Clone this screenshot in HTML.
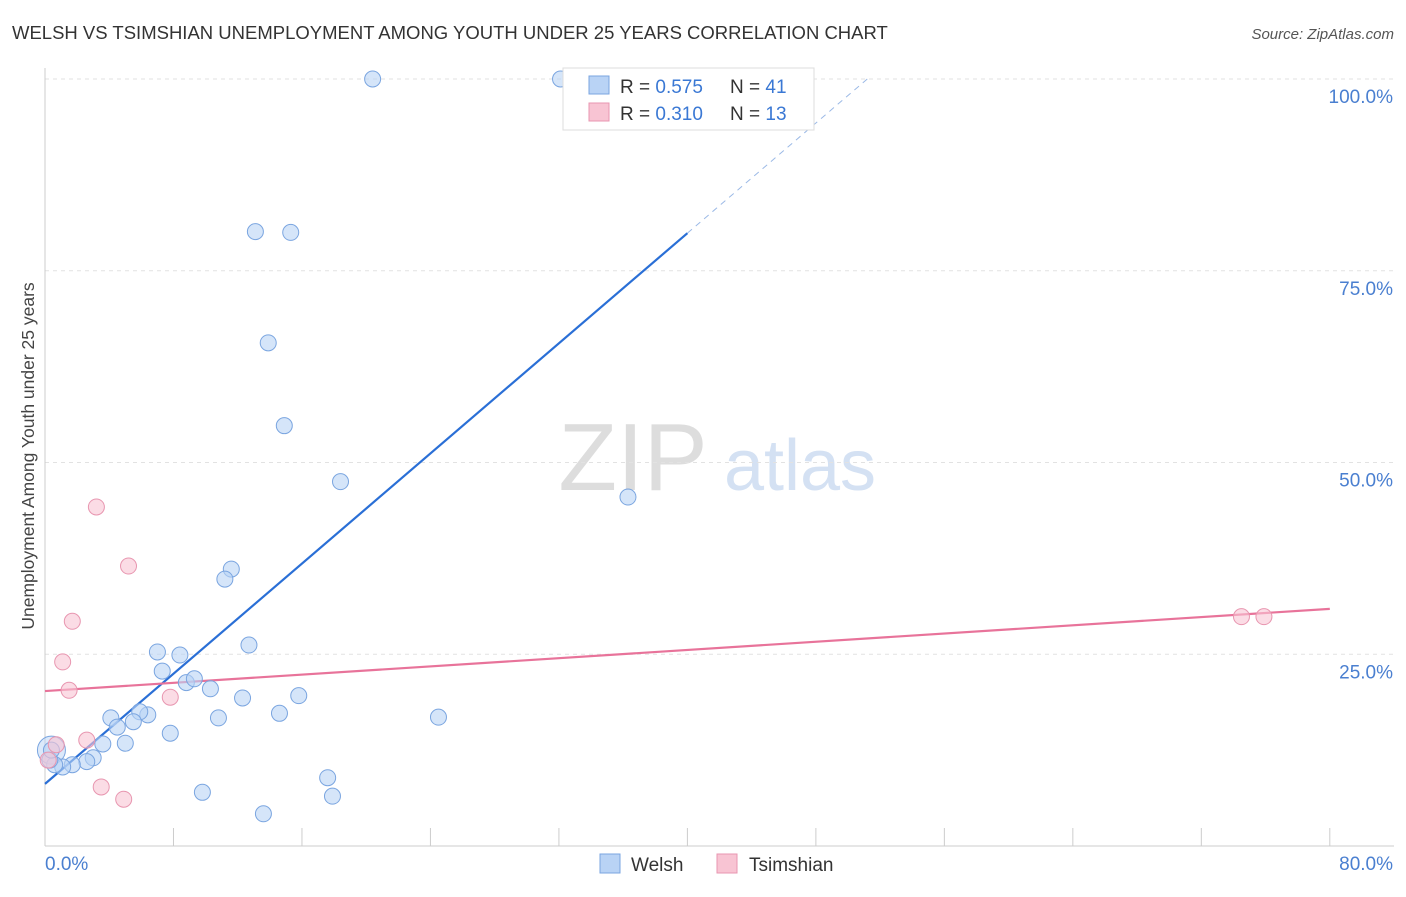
<!DOCTYPE html>
<html><head><meta charset="utf-8"><style>
body{margin:0;background:#fff;font-family:"Liberation Sans",sans-serif;}
svg text{font-family:"Liberation Sans",sans-serif;}
</style></head><body>
<svg width="1406" height="892" xmlns="http://www.w3.org/2000/svg">
<text x="12" y="39" font-size="18.5" fill="#333">WELSH VS TSIMSHIAN UNEMPLOYMENT AMONG YOUTH UNDER 25 YEARS CORRELATION CHART</text>
<text x="1394" y="39" font-size="15" fill="#555" font-style="italic" text-anchor="end">Source: ZipAtlas.com</text>
<text x="34" y="456" font-size="17.5" fill="#444" text-anchor="middle" transform="rotate(-90 34 456)">Unemployment Among Youth under 25 years</text>
<g><text x="633" y="490" font-size="96" fill="#ddd" font-family="Liberation Serif" text-anchor="middle">ZIP</text><text x="800" y="490" font-size="72" fill="#d4e1f3" text-anchor="middle">atlas</text></g>
<g id="grid"></g>
<g id="axes"></g>
<g id="lines"></g>
<g id="pts"></g>
<g>
<rect x="563" y="68" width="251" height="62" fill="#fff" stroke="#ddd"/>
<rect x="589" y="76" width="20" height="18" fill="#b9d3f5" stroke="#7aa5e0"/>
<text x="620" y="93" font-size="19" fill="#333">R = <tspan fill="#3a78d4">0.575</tspan></text>
<text x="730" y="93" font-size="19" fill="#333">N = <tspan fill="#3a78d4">41</tspan></text>
<rect x="589" y="103" width="20" height="18" fill="#f8c4d3" stroke="#e896b0"/>
<text x="620" y="120" font-size="19" fill="#333">R = <tspan fill="#3a78d4">0.310</tspan></text>
<text x="730" y="120" font-size="19" fill="#333">N = <tspan fill="#3a78d4">13</tspan></text>
</g>
<g>
<rect x="600" y="854" width="20" height="19" fill="#b9d3f5" stroke="#7aa5e0"/>
<text x="631" y="871" font-size="19" fill="#333">Welsh</text>
<rect x="717" y="854" width="20" height="19" fill="#f8c4d3" stroke="#e896b0"/>
<text x="749" y="871" font-size="19" fill="#333">Tsimshian</text>
</g>
</svg>
<script>
const welshX=[20.4,32.1,13.1,15.3,13.9,14.9,18.4,36.3,11.6,11.2,12.7,7.0,8.4,7.3,8.8,9.3,10.3,12.3,15.8,6.4,5.9,4.1,5.5,10.8,14.6,24.5,4.5,7.8,3.6,5.0,3.0,2.6,1.7,1.1,0.6,9.8,17.6,17.9,13.6,0.3,0.4];
const welshY=[100,100,80.1,80,65.6,54.8,47.5,45.5,36.1,34.8,26.2,25.3,24.9,22.8,21.3,21.8,20.5,19.3,19.6,17.1,17.5,16.7,16.2,16.7,17.3,16.8,15.5,14.7,13.3,13.4,11.5,11.0,10.6,10.3,10.6,7.0,8.9,6.5,4.2,11.2,12.5];
const tsimX=[3.2,5.2,1.7,1.1,1.5,7.8,2.6,0.7,0.2,3.5,4.9,74.5,75.9];
const tsimY=[44.2,36.5,29.3,24.0,20.3,19.4,13.8,13.2,11.2,7.7,6.1,29.9,29.9];
const yTicks=[25,50,75,100];
const yTickLabels=["25.0%","50.0%","75.0%","100.0%"];
const xTicks=[0,8,16,24,32,40,48,56,64,72,80];
const welshTrend=[8.1,1.795];
const tsimTrend=[20.2,0.134];
const sx=v=>45+v*16.06, sy=v=>846-v*7.67;
const NS="http://www.w3.org/2000/svg";
function mk(p,t,a){const e=document.createElementNS(NS,t);for(const k in a)e.setAttribute(k,a[k]);p.appendChild(e);return e;}
const grid=document.getElementById('grid'),axes=document.getElementById('axes'),lines=document.getElementById('lines'),pts=document.getElementById('pts');
yTicks.forEach((v,i)=>{
 const l=mk(grid,'line',{x1:45,x2:1394,y1:sy(v),y2:sy(v),stroke:'#e2e2e2','stroke-dasharray':'4 4'});
 
 
 const t=mk(axes,'text',{x:1393,y:sy(v)+24,'font-size':19,fill:'#4a7fd0','text-anchor':'end'});
 t.textContent=yTickLabels[i];
 
 
});
mk(axes,'line',{x1:45,x2:45,y1:68,y2:846,stroke:'#ccc'});
mk(axes,'line',{x1:45,x2:1394,y1:846,y2:846,stroke:'#ccc'});
xTicks.forEach(v=>{const t=mk(axes,'line',{x1:sx(v),x2:sx(v),y1:828,y2:846,stroke:'#ccc'});
 
 });
const x0=mk(axes,'text',{x:45,y:870,'font-size':19,fill:'#4a7fd0'});x0.textContent='0.0%';


const x1=mk(axes,'text',{x:1393,y:870,'font-size':19,fill:'#4a7fd0','text-anchor':'end'});x1.textContent='80.0%';


function addPts(X,Y,fill,stroke,name){X.forEach((x,i)=>{const c=mk(pts,'circle',{cx:sx(x),cy:sy(Y[i]),r:8,fill:fill,stroke:stroke,'stroke-width':1,'fill-opacity':0.6});
 
 });}
const big=mk(pts,'circle',{cx:sx(0.4),cy:sy(12.5),r:14,fill:'#b9d3f5','fill-opacity':0.5,stroke:'#7aa5e0'});


addPts(welshX,welshY,'#b9d3f5','#7aa5e0','welsh-point');
addPts(tsimX,tsimY,'#f8c4d3','#e896b0','tsimshian-point');
const wl=mk(lines,'line',{x1:sx(0),y1:sy(welshTrend[0]),x2:sx(40),y2:sy(welshTrend[0]+40*welshTrend[1]),stroke:'#2a6fd6','stroke-width':2.2});


const wd=mk(lines,'line',{x1:sx(40),y1:sy(welshTrend[0]+40*welshTrend[1]),x2:sx(51.2),y2:sy(welshTrend[0]+51.2*welshTrend[1]),stroke:'#9bb9e6','stroke-width':1,'stroke-dasharray':'6 5'});


const tl=mk(lines,'line',{x1:sx(0),y1:sy(tsimTrend[0]),x2:sx(80),y2:sy(tsimTrend[0]+80*tsimTrend[1]),stroke:'#e8739a','stroke-width':2.2});


</script>
</body></html>
